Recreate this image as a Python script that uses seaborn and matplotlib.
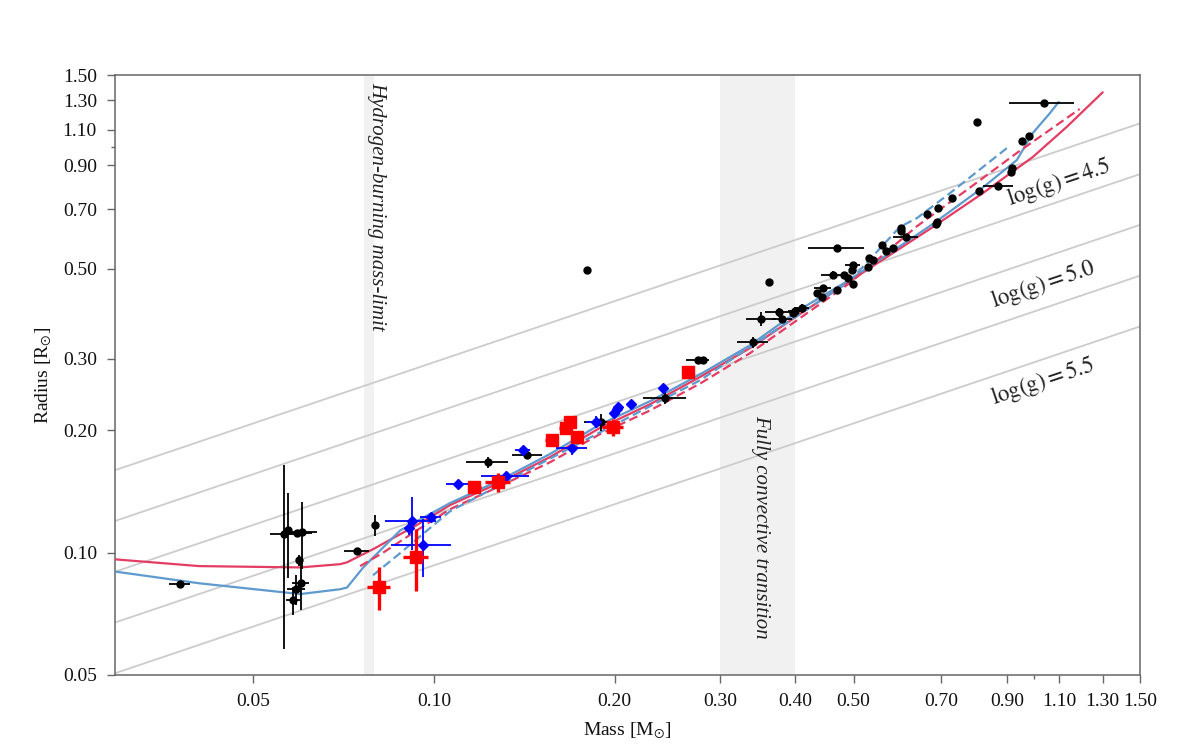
import numpy as np
import pandas as pd
import matplotlib
matplotlib.use("Agg")
import matplotlib.pyplot as plt
from matplotlib.ticker import FixedLocator, NullFormatter
import seaborn as sns

# ---------------- data ----------------
x_ticks = [0.05, 0.10, 0.20, 0.30, 0.40, 0.50, 0.70, 0.90, 1.10, 1.30, 1.50]
y_ticks = [0.05, 0.10, 0.20, 0.30, 0.50, 0.70, 0.90, 1.10, 1.30, 1.50]
logg_levels = [4.5, 4.75, 5.0, 5.25, 5.5]
logg_labelled = [4.5, 5.0, 5.5]

# black: literature (mass, radius, mass err, radius err)
blk_m = [0.0377, 0.0562, 0.0571, 0.0591, 0.0602, 0.0595, 0.0600, 0.0589, 0.0582,
         0.0744, 0.0797, 0.1229, 0.143, 0.1896, 0.1797, 0.2426, 0.2747, 0.2806,
         0.340, 0.351, 0.361, 0.376, 0.380, 0.396, 0.399, 0.410,
         0.434, 0.443, 0.444, 0.462, 0.470, 0.470, 0.481, 0.490, 0.498, 0.498,
         0.496, 0.531, 0.528, 0.539, 0.557, 0.566, 0.582, 0.599, 0.599, 0.611,
         0.663, 0.685, 0.691, 0.689, 0.729, 0.808, 0.802, 0.870, 0.913, 0.917,
         0.953, 0.979, 1.036]
blk_r = [0.0836, 0.111, 0.1136, 0.112, 0.1123, 0.0958, 0.0841, 0.0813, 0.0764,
         0.101, 0.117, 0.167, 0.174, 0.2096, 0.497, 0.240, 0.298, 0.298,
         0.330, 0.376, 0.464, 0.391, 0.376, 0.389, 0.394, 0.400,
         0.436, 0.426, 0.448, 0.483, 0.444, 0.562, 0.483, 0.474, 0.458, 0.510,
         0.496, 0.531, 0.505, 0.525, 0.572, 0.553, 0.562, 0.630, 0.619, 0.598,
         0.682, 0.644, 0.705, 0.652, 0.746, 0.777, 1.148, 0.799, 0.865, 0.885,
         1.031, 1.061, 1.279]
blk_me = [0.0015, 0.003, 0.0, 0.0035, 0.0035, 0.0, 0.002, 0.002, 0.0015,
          0.0035, 0.0, 0.010, 0.008, 0.012, 0.0, 0.02, 0.012, 0.0,
          0.02, 0.02, 0.0, 0.02, 0.015, 0.0, 0.01, 0.012,
          0.0, 0.0, 0.015, 0.02, 0.0, 0.05, 0.0, 0.0, 0.0, 0.015,
          0.0, 0.0, 0.0, 0.0, 0.0, 0.0, 0.0, 0.0, 0.0, 0.03,
          0.0, 0.0, 0.0, 0.0, 0.0, 0.0, 0.0, 0.05, 0.0, 0.0,
          0.0, 0.0, 0.13]
blk_re = [0.001, 0.053, 0.027, 0.0, 0.021, 0.003, 0.012, 0.007, 0.006,
          0.001, 0.007, 0.005, 0.003, 0.010, 0.0, 0.008, 0.0, 0.0,
          0.01, 0.015, 0.0, 0.01, 0.005, 0.0, 0.0, 0.01,
          0.0, 0.0, 0.006, 0.012, 0.0, 0.01, 0.0, 0.0, 0.0, 0.0,
          0.0, 0.0, 0.0, 0.0, 0.0, 0.0, 0.0, 0.0, 0.0, 0.005,
          0.0, 0.0, 0.0, 0.0, 0.0, 0.0, 0.0, 0.0, 0.0, 0.0,
          0.0, 0.0, 0.02]

# blue diamonds
blu_m = [0.1096, 0.0919, 0.0909, 0.0988, 0.0958, 0.1318, 0.1406, 0.1696, 0.1860,
         0.2018, 0.2026, 0.1995, 0.2128, 0.2405]
blu_r = [0.1475, 0.1195, 0.1148, 0.1223, 0.1043, 0.1543, 0.1788, 0.181, 0.2097,
         0.2256, 0.228, 0.2206, 0.232, 0.254]
blu_me = [0.005, 0.009, 0.0, 0.004, 0.011, 0.012, 0.004, 0.010, 0.007,
          0.0, 0.0, 0.0, 0.0, 0.0]
blu_re = [0.002, 0.018, 0.004, 0.002, 0.017, 0.002, 0.002, 0.007, 0.007,
          0.0, 0.0, 0.0, 0.0, 0.0]

# red squares
red_m = [0.0809, 0.0932, 0.1167, 0.1277, 0.1570, 0.1656, 0.1683, 0.1728, 0.1987, 0.2648]
red_r = [0.0822, 0.0975, 0.145, 0.149, 0.189, 0.2025, 0.210, 0.1925, 0.2037, 0.278]
red_me = [0.0035, 0.0045, 0.003, 0.006, 0.004, 0.004, 0.004, 0.004, 0.008, 0.004]
red_re = [0.010, 0.017, 0.003, 0.008, 0.006, 0.006, 0.004, 0.004, 0.010, 0.003]

# model isochrones
red_solid_m = [0.0292, 0.0406, 0.0598, 0.0697, 0.0716, 0.0791, 0.0936, 0.1063, 0.1289,
               0.1560, 0.1891, 0.2289, 0.2776, 0.336, 0.407, 0.4925, 0.638, 0.678,
               0.821, 0.994, 1.132, 1.300]
red_solid_r = [0.0964, 0.0927, 0.092, 0.0937, 0.0947, 0.102, 0.117, 0.131, 0.149,
               0.172, 0.203, 0.232, 0.271, 0.319, 0.387, 0.466, 0.598, 0.634,
               0.768, 0.942, 1.117, 1.36]
blue_solid_m = [0.0292, 0.0406, 0.0598, 0.0697, 0.0716, 0.0762, 0.0878, 0.1063, 0.1289,
                0.1560, 0.1891, 0.2289, 0.2776, 0.336, 0.407, 0.4925, 0.638, 0.678,
                0.821, 0.935, 0.994, 1.062, 1.098]
blue_solid_r = [0.090, 0.0841, 0.0791, 0.0813, 0.0821, 0.092, 0.1135, 0.1325, 0.151,
                0.175, 0.207, 0.236, 0.275, 0.324, 0.397, 0.470, 0.607, 0.645,
                0.793, 0.926, 1.079, 1.209, 1.287]
red_dash_m = [0.0753, 0.0822, 0.0936, 0.1063, 0.1289, 0.1560, 0.1891, 0.2289, 0.2776,
              0.336, 0.407, 0.4925, 0.638, 0.772, 0.935, 1.190]
red_dash_r = [0.0927, 0.100, 0.1135, 0.128, 0.146, 0.167, 0.196, 0.224, 0.261,
              0.310, 0.378, 0.461, 0.637, 0.782, 0.964, 1.237]
blue_dash_m = [0.0791, 0.0878, 0.1063, 0.1289, 0.1891, 0.2776, 0.407, 0.4925, 0.597,
               0.638, 0.723, 0.900]
blue_dash_r = [0.088, 0.0998, 0.1265, 0.147, 0.198, 0.266, 0.387, 0.466, 0.634,
               0.667, 0.767, 0.991]

# ---------------- style ----------------
sns.set_theme(style="ticks")
plt.rcParams["font.family"] = ["Liberation Serif", "DejaVu Serif"]
plt.rcParams["mathtext.fontset"] = "stix"

RED = "#e33d63"
BLUE = "#5e9acd"
SPINE = "#666666"

fig = plt.figure(figsize=(12, 7.5), dpi=100)
ax = fig.add_axes([115 / 1200, 75 / 750, 1025 / 1200, 600 / 750])
ax.set_xscale("log")
ax.set_yscale("log")
xlim = (0.0294, 1.5)
ax.set_xlim(*xlim)
ax.set_ylim(0.05, 1.5)

# shaded regions
ax.axvspan(0.0765, 0.0795, color="#f1f1f1", zorder=0, lw=0)
ax.axvspan(0.30, 0.40, color="#f1f1f1", zorder=0, lw=0)

# constant log(g) lines: R = sqrt(M * 10**(4.438 - logg))
for lg in logg_levels:
    mm = np.array(xlim)
    rr = np.sqrt(mm * 10 ** (4.438 - lg))
    ax.plot(mm, rr, color="#cccccc", lw=1.3, zorder=1)

lab_pos = {4.5: (1.10, 0.815), 5.0: (1.035, 0.458), 5.5: (1.035, 0.264)}
for lg in logg_labelled:
    xm, yr = lab_pos[lg]
    ax.text(xm, yr, r"$\log(\mathrm{g}) = %.1f$" % lg, fontsize=16.5, rotation=18.5,
            ha="center", va="center", color="#222222", rotation_mode="anchor")

# model curves
curves = pd.concat([
    pd.DataFrame({"m": red_solid_m, "r": red_solid_r, "model": "red_solid"}),
    pd.DataFrame({"m": blue_solid_m, "r": blue_solid_r, "model": "blue_solid"}),
    pd.DataFrame({"m": red_dash_m, "r": red_dash_r, "model": "red_dash"}),
    pd.DataFrame({"m": blue_dash_m, "r": blue_dash_r, "model": "blue_dash"}),
])
pal = {"red_solid": RED, "blue_solid": BLUE, "red_dash": RED, "blue_dash": BLUE}
dash = {"red_solid": "", "blue_solid": "", "red_dash": (4, 2), "blue_dash": (4, 2)}
sns.lineplot(data=curves, x="m", y="r", hue="model", style="model", palette=pal,
             dashes=dash, sort=False, estimator=None, lw=1.6, legend=False,
             ax=ax, zorder=3)

# data points
ax.errorbar(blk_m, blk_r, xerr=blk_me, yerr=blk_re, fmt="o", color="black",
            ms=5, elinewidth=1.3, capsize=0, zorder=5)
ax.errorbar(blu_m, blu_r, xerr=blu_me, yerr=blu_re, fmt="D", color="#0000ff",
            ms=5, elinewidth=1.3, capsize=0, zorder=5)
ax.errorbar(red_m, red_r, xerr=red_me, yerr=red_re, fmt="s", color="#ff0000",
            ms=8.5, elinewidth=2.4, capsize=0, zorder=6)

# annotations
ax.text(0.0803, 1.44, "Hydrogen-burning mass-limit", rotation=-90, fontsize=15,
        style="italic", ha="center", va="top", color="#222222")
ax.text(0.350, 0.1155, "Fully convective transition", rotation=-90, fontsize=15,
        style="italic", ha="center", va="center", color="#222222")

# ticks
ax.xaxis.set_major_locator(FixedLocator(x_ticks))
ax.set_xticklabels(["%.2f" % v for v in x_ticks])
ax.yaxis.set_major_locator(FixedLocator(y_ticks))
ax.set_yticklabels(["%.2f" % v for v in y_ticks])
ax.xaxis.set_minor_locator(FixedLocator([1.0]))
ax.yaxis.set_minor_locator(FixedLocator([1.0]))
ax.xaxis.set_minor_formatter(NullFormatter())
ax.yaxis.set_minor_formatter(NullFormatter())
ax.tick_params(which="major", direction="out", length=6, width=1, color=SPINE,
               labelsize=14, pad=7, labelcolor="#111111")
ax.tick_params(which="minor", direction="out", length=3, width=1, color=SPINE)
for s in ax.spines.values():
    s.set_color(SPINE)
    s.set_linewidth(1.1)

ax.set_xlabel(r"Mass [M$_{\odot}$]", fontsize=14, labelpad=8, color="#111111")
ax.set_ylabel(r"Radius [R$_{\odot}$]", fontsize=14, labelpad=6, color="#111111")

fig.savefig("out.png", dpi=100)
